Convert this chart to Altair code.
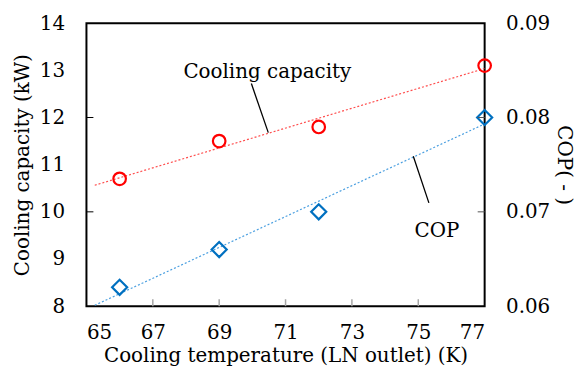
import altair as alt
import pandas as pd

temps = [66, 69, 72, 77]
capacity = [10.7, 11.5, 11.8, 13.1]
cop = [0.062, 0.066, 0.070, 0.080]

x_ticks = [65, 67, 69, 71, 73, 75, 77]
cap_ticks = [8, 9, 10, 11, 12, 13, 14]
cop_ticks = [0.06, 0.07, 0.08, 0.09]
inner_x_ticks = [67, 69, 71, 73, 75]
inner_cap_ticks = [10, 12]
inner_cop_ticks = [0.07, 0.08]

W, H = 401, 285
FONT = "DejaVu Serif"
FS = 20

df = pd.DataFrame({"T": temps, "cap": capacity, "cop": cop})

xs = alt.Scale(domain=[65, 77], nice=False, zero=False)
ys_cap = alt.Scale(domain=[8, 14], nice=False, zero=False)
ys_cop = alt.Scale(domain=[0.06, 0.09], nice=False, zero=False)

x_axis = alt.Axis(values=x_ticks, title="Cooling temperature (LN outlet) (K)",
                  ticks=False, domain=False, grid=False, labelPadding=17,
                  titlePadding=3, labelFont=FONT, titleFont=FONT)
cap_axis = alt.Axis(values=cap_ticks, title="Cooling capacity (kW)", ticks=False,
                    domain=False, grid=False, labelPadding=22, titlePadding=7,
                    labelFont=FONT, titleFont=FONT)
cop_axis = alt.Axis(values=cop_ticks, title="COP( - )", ticks=False, orient="right",
                    domain=False, grid=False, labelPadding=21, titlePadding=4,
                    format=".2f", labelFont=FONT, titleFont=FONT)


def X(f):
    return alt.X(f, type="quantitative", scale=xs, axis=x_axis)


def YC(f):
    return alt.Y(f, type="quantitative", scale=ys_cap, axis=cap_axis)


def YP(f):
    return alt.Y(f, type="quantitative", scale=ys_cop, axis=cop_axis)


base = alt.Chart(df)

cap_line = base.transform_regression("T", "cap", extent=[65.25, 77]).mark_line(
    color="#FF4D4D", strokeDash=[2, 2], strokeWidth=1.2, clip=True
).encode(x=X("T"), y=YC("cap"))

cap_pts = base.mark_point(shape="circle", size=160, color="#FF0000", strokeWidth=2.2,
                          filled=False, opacity=1).encode(x=X("T"), y=YC("cap"))

xt = alt.Chart(pd.DataFrame({"T": inner_x_ticks})).mark_rule(
    color="#A6A6A6", strokeWidth=1.5).encode(
    x=X("T"), y=alt.value(H - 7), y2=alt.value(H))

lt = alt.Chart(pd.DataFrame({"cap": inner_cap_ticks})).mark_rule(
    color="black", strokeWidth=1).encode(
    y=YC("cap"), x=alt.value(0), x2=alt.value(7))

ann_cap = alt.Chart(pd.DataFrame({"T": [70.45], "cap": [12.84], "t": ["Cooling capacity"]})).mark_text(
    font=FONT, fontSize=FS, align="center", baseline="alphabetic", color="black").encode(
    x=X("T"), y=YC("cap"), text="t:N")

lead_cap = alt.Chart(pd.DataFrame({"T": [69.97], "T2": [70.48], "cap": [12.72], "cap2": [11.68]})).mark_rule(
    color="black", strokeWidth=1.3).encode(
    x=X("T"), x2="T2:Q", y=YC("cap"), y2="cap2:Q")

left = alt.layer(cap_line, cap_pts, xt, lt, ann_cap, lead_cap)

cop_line = base.transform_regression("T", "cop", extent=[65.25, 77]).mark_line(
    color="#4A9FE0", strokeDash=[2, 2], strokeWidth=1.2, clip=True
).encode(x=X("T"), y=YP("cop"))

cop_pts = base.mark_point(shape="diamond", size=230, color="#0070C0", strokeWidth=2.2,
                          filled=False, opacity=1).encode(x=X("T"), y=YP("cop"))

rt = alt.Chart(pd.DataFrame({"cop": inner_cop_ticks})).mark_rule(
    color="#555555", strokeWidth=1).encode(
    y=YP("cop"), x=alt.value(W - 7), x2=alt.value(W))

ann_cop = alt.Chart(pd.DataFrame({"T": [75.56], "cop": [0.06737], "t": ["COP"]})).mark_text(
    font=FONT, fontSize=FS, align="center", baseline="alphabetic", color="black").encode(
    x=X("T"), y=YP("cop"), text="t:N")

lead_cop = alt.Chart(pd.DataFrame({"T": [74.85], "T2": [75.32], "cop": [0.0759], "cop2": [0.07095]})).mark_rule(
    color="black", strokeWidth=1.3).encode(
    x=X("T"), x2="T2:Q", y=YP("cop"), y2="cop2:Q")

right = alt.layer(cop_line, cop_pts, rt, ann_cop, lead_cop)

chart = alt.layer(left, right).resolve_scale(y="independent").properties(
    width=W, height=H,
    autosize=alt.AutoSizeParams(type="none"),
    padding={"left": 79, "top": 14, "right": 92, "bottom": 63},
    background="white",
).configure_view(stroke="black", strokeWidth=2).configure_axis(
    labelFontSize=FS, titleFontSize=FS,
    labelColor="black", titleColor="black", titleFontWeight="normal"
).configure_text(font=FONT)

chart.save("out.html", embed_options={"renderer": "svg", "actions": False})
